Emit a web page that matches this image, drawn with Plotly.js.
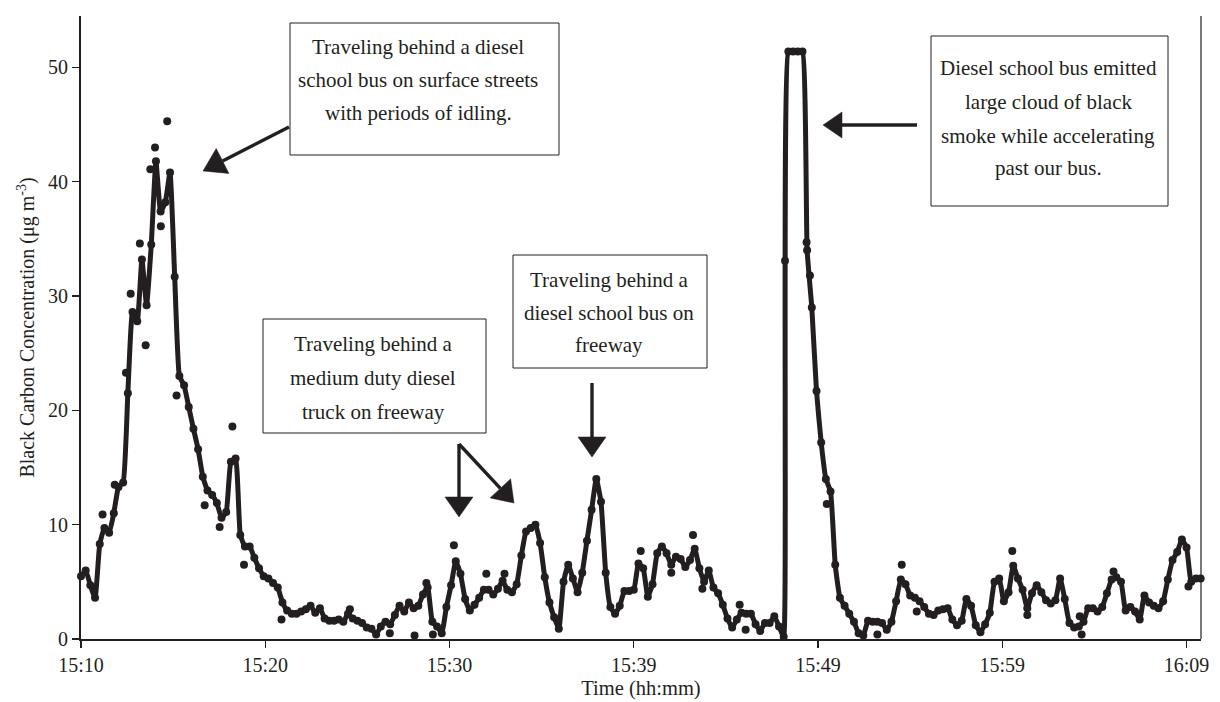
<!DOCTYPE html>
<html>
<head>
<meta charset="utf-8">
<script src="https://cdn.plot.ly/plotly-3.0.1.min.js"></script>
<style>
html,body{margin:0;padding:0;background:#fff;}
#chart{width:1220px;height:702px;}
</style>
</head>
<body>
<div id="chart"></div>
<script>
// ---- DATA ----
// Black carbon concentration (ug m-3), one sample every 15 s starting 15:10
const sampleStepMin = 0.25;
const bc_1510 = [5.5, 6.0, 4.7, 3.6, 8.3, 9.7, 9.3, 11.0, 13.3, 13.7,
  21.5, 28.6, 27.8, 33.2, 29.2, 34.5, 41.8, 37.4, 38.2, 40.8,
  31.7, 23.0, 22.2, 20.3, 18.4, 16.6, 14.2, 13.0, 12.6, 11.9,
  10.6, 11.1, 15.5, 15.8, 9.1, 8.1, 8.1, 7.1, 6.2, 5.5];
const bc_1520 = [5.3, 4.9, 4.5, 3.2, 2.5, 2.2, 2.2, 2.4, 2.6, 2.9,
  2.3, 2.7, 1.8, 1.6, 1.6, 1.7, 1.5, 2.2, 1.8, 1.6,
  1.4, 1.0, 0.9, 0.4, 1.1, 1.5, 1.3, 2.1, 2.9, 2.4,
  3.2, 2.7, 2.9, 3.9, 4.5, 1.5, 1.1, 0.5, 2.8, 4.7];
const bc_1530 = [6.8, 5.7, 3.5, 2.5, 3.0, 3.6, 4.3, 4.3, 3.9, 4.4,
  5.1, 4.3, 4.1, 4.8, 7.3, 9.4, 9.7, 10.0, 8.4, 5.4,
  3.2, 1.9, 0.9, 5.0, 6.5, 5.3, 4.1, 5.8, 8.6, 11.3,
  14.0, 12.0, 5.8, 2.8, 2.2, 2.9, 4.2, 4.2, 4.3, 6.6];
const bc_1540 = [6.2, 3.7, 4.8, 7.5, 8.1, 7.5, 6.5, 7.2, 7.0, 6.3,
  6.9, 7.9, 6.2, 5.0, 6.0, 4.5, 4.0, 3.0, 1.8, 1.0,
  1.7, 2.3, 2.2, 2.2, 1.3, 0.7, 1.4, 1.4, 2.0, 1.1,
  0.2, 51.4, 51.4, 51.4, 51.4, 34.0, 29.0, 21.7, 17.2, 14.0];
const bc_1550 = [12.9, 6.5, 3.6, 2.9, 2.2, 1.5, 0.5, 0.3, 1.6, 1.5,
  1.5, 1.4, 0.8, 1.5, 3.3, 5.2, 4.8, 3.8, 3.6, 3.3,
  2.8, 2.2, 2.1, 2.5, 2.6, 2.7, 1.7, 1.2, 1.6, 3.5,
  2.9, 1.2, 0.6, 1.3, 2.3, 5.0, 5.3, 3.3, 4.1, 6.4];
const bc_1600 = [5.3, 4.3, 2.7, 4.0, 4.7, 4.1, 3.4, 3.1, 3.4, 5.3,
  3.5, 1.4, 1.0, 1.1, 1.5, 2.7, 2.7, 2.4, 2.8, 4.0,
  5.2, 5.4, 5.0, 2.5, 2.8, 2.4, 1.7, 3.8, 3.2, 2.9,
  2.7, 3.3, 5.2, 6.9, 7.6, 8.7, 8.0, 5.0, 5.3, 5.3];

// individual readings lying off the smoothed trace (minutes after 15:10, ug m-3)
const offTraceMin = [4.6, 3.95, 3.14, 2.65, 3.45, 2.4, 5.1, 1.8, 1.15, 8.08, 6.6, 7.4, 8.7, 4.26, 3.7,
  10.7, 17.8, 18.78, 16.48, 19.9, 21.63, 22.6, 29.87, 32.66, 31.5, 33.16, 35.15, 35.47,
  37.57, 38.72, 38.9, 39.8, 43.8, 49.7, 42.5, 50.5, 44.6, 53.3, 53.4, 55.1, 59.1, 18.43, 14.35];
const offTraceVal = [45.3, 43.0, 34.6, 30.2, 25.7, 23.3, 21.3, 13.5, 10.9, 18.6, 11.7, 9.8, 6.5, 36.1, 41.1,
  1.7, 0.3, 0.4, 0.5, 8.2, 5.7, 5.7, 7.7, 9.1, 5.8, 4.4, 3.0, 0.8,
  33.1, 34.7, 31.8, 11.8, 6.5, 7.7, 0.4, 2.1, 2.4, 2.0, 0.4, 5.9, 4.6, 4.9, 2.6];

const tickMin = [0, 9.833, 19.667, 29.5, 39.333, 49.167, 59];
const tickLabels = ['15:10', '15:20', '15:30', '15:39', '15:49', '15:59', '16:09'];
const yTicks = [0, 10, 20, 30, 40, 50];

const notes = [
  ['Traveling behind a diesel', 'school bus on surface streets', 'with periods of idling.'],
  ['Diesel school bus emitted', 'large cloud of black', 'smoke while accelerating', 'past our bus.'],
  ['Traveling behind a', 'medium duty diesel', 'truck on freeway'],
  ['Traveling behind a', 'diesel school bus on', 'freeway']
];

// ---- BUILD ----
const bc = [].concat(bc_1510, bc_1520, bc_1530, bc_1540, bc_1550, bc_1600);
const tMin = bc.map((_, i) => i * sampleStepMin);

const INK = '#231f20';
const FONT = 'Liberation Serif, Times New Roman, serif';

// pixel -> paper helpers (plot area 81..1201 x 16..639)
const L = 81, R = 1201, T = 16, B = 639;
const px = x => (x - L) / (R - L);
const py = y => (B - y) / (B - T);

const boxes = [
  {x0: 290, x1: 559, y0: 23, y1: 155, cx: 418, lines: [47, 80, 113]},
  {x0: 931, x1: 1168, y0: 36, y1: 206, cx: 1048, lines: [68, 102, 136, 168]},
  {x0: 263, x1: 486, y0: 319, y1: 433, cx: 373, lines: [344, 378, 412]},
  {x0: 513, x1: 707, y0: 255, y1: 368, cx: 609, lines: [280, 313, 345]}
];
const arrows = [
  {tail: [289, 127], tip: [203, 171], len: 22, half: 14},
  {tail: [917, 125], tip: [823, 125], len: 19, half: 13},
  {tail: [459, 444], tip: [459, 517], len: 20, half: 14},
  {tail: [459, 444], tip: [514, 503], len: 20, half: 14},
  {tail: [592, 383], tip: [592, 457], len: 20, half: 14}
];

const shapes = [];
const annotations = [];
boxes.forEach((b, k) => {
  shapes.push({type: 'rect', xref: 'paper', yref: 'paper', x0: px(b.x0), x1: px(b.x1), y0: py(b.y1), y1: py(b.y0),
    line: {color: INK, width: 1}, fillcolor: 'white', layer: 'above'});
  notes[k].forEach((txt, j) => {
    annotations.push({xref: 'paper', yref: 'paper', x: px(b.cx), y: py(b.lines[j]), text: txt, showarrow: false,
      xanchor: 'center', yanchor: 'middle', font: {family: FONT, size: 21, color: INK}});
  });
});
arrows.forEach(a => {
  const dx = a.tip[0] - a.tail[0], dy = a.tip[1] - a.tail[1];
  const n = Math.hypot(dx, dy), ux = dx / n, uy = dy / n;
  const bx = a.tip[0] - ux * a.len, by = a.tip[1] - uy * a.len;
  shapes.push({type: 'line', xref: 'paper', yref: 'paper', x0: px(a.tail[0]), y0: py(a.tail[1]), x1: px(bx), y1: py(by),
    line: {color: INK, width: 3.4}, layer: 'above'});
  const p1 = [bx - uy * a.half, by + ux * a.half], p2 = [bx + uy * a.half, by - ux * a.half];
  shapes.push({type: 'path', xref: 'paper', yref: 'paper',
    path: `M ${px(a.tip[0])},${py(a.tip[1])} L ${px(p1[0])},${py(p1[1])} L ${px(p2[0])},${py(p2[1])} Z`,
    fillcolor: INK, line: {color: INK, width: 0.5}, layer: 'above'});
});
// right frame line
shapes.push({type: 'line', xref: 'paper', yref: 'paper', x0: 1, x1: 1, y0: 0, y1: 1, line: {color: INK, width: 1.2}});

const traces = [
  {x: tMin, y: bc, type: 'scatter', mode: 'lines+markers', cliponaxis: false,
   line: {color: INK, width: 5, shape: 'spline', smoothing: 0.4}, marker: {color: INK, size: 8}, hoverinfo: 'x+y'},
  {x: offTraceMin, y: offTraceVal, type: 'scatter', mode: 'markers', cliponaxis: false,
   marker: {color: INK, size: 8}}
];

const layout = {
  width: 1220, height: 702,
  margin: {l: L, r: 1220 - R, t: T, b: 702 - B},
  paper_bgcolor: 'white', plot_bgcolor: 'white',
  showlegend: false,
  font: {family: FONT, color: INK, size: 20},
  xaxis: {
    range: [0, 59.77], tickvals: tickMin, ticktext: tickLabels,
    ticks: 'outside', ticklen: 7, tickwidth: 1.2, tickcolor: INK,
    showline: true, linecolor: INK, linewidth: 2, showgrid: false, zeroline: false,
    tickfont: {family: FONT, size: 20, color: INK},
    title: {text: 'Time (hh:mm)', font: {family: FONT, size: 20.5, color: INK}, standoff: 6}
  },
  yaxis: {
    range: [0, 54.5], tickvals: yTicks,
    ticks: 'outside', ticklen: 7, tickwidth: 1.2, tickcolor: INK,
    showline: true, linecolor: INK, linewidth: 2, showgrid: false, zeroline: false,
    tickfont: {family: FONT, size: 20, color: INK},
    title: {text: 'Black Carbon Concentration (μg m<sup>-3</sup>)', font: {family: FONT, size: 20, color: INK}, standoff: 8}
  },
  shapes: shapes,
  annotations: annotations
};

Plotly.newPlot('chart', traces, layout, {displayModeBar: false, staticPlot: true});
</script>
</body>
</html>
